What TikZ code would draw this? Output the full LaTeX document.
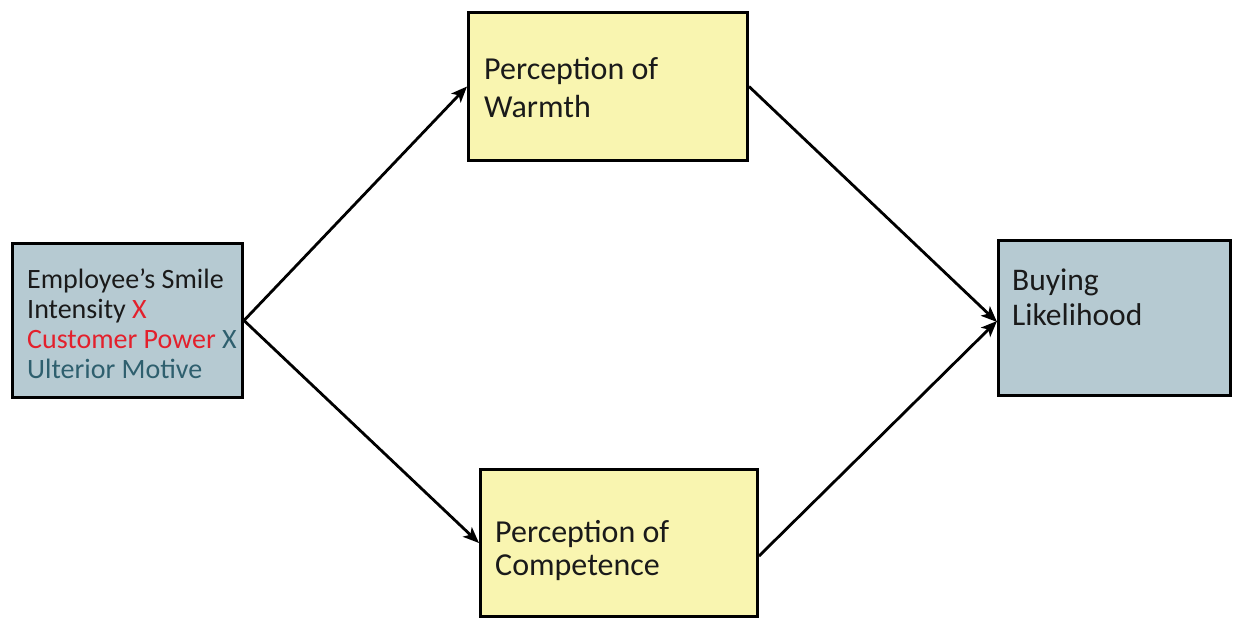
\documentclass[tikz,border=0pt]{standalone}
\usepackage{fontspec}
\setmainfont{Carlito}
\usetikzlibrary{arrows.meta}
\definecolor{boxblue}{HTML}{B6CAD2}
\definecolor{boxyellow}{HTML}{F9F5B0}
\definecolor{xred}{HTML}{E3202C}
\definecolor{xteal}{HTML}{2E5F6E}
\definecolor{txt}{HTML}{1A1A1A}
\tikzset{
  box/.style={draw=black, line width=3pt, inner sep=0pt, anchor=north west},
  bluebox/.style={box, fill=boxblue},
  yellowbox/.style={box, fill=boxyellow},
  lbl/.style={inner sep=0pt, anchor=base west, align=left, text=txt},
  arr/.style={line width=2.8pt, -{Stealth[length=16pt, width=13pt, inset=4pt]}}
}
\begin{document}
\begin{tikzpicture}[x=1pt, y=-1pt]
\fill[white] (0,0) rectangle (1233,622);
\useasboundingbox (0,0) rectangle (1233,622);
% boxes
\node[bluebox, minimum width=230pt, minimum height=154pt] (smile) at (11,242) {};
\node[yellowbox, minimum width=279pt, minimum height=148pt] (warmth) at (467,11) {};
\node[yellowbox, minimum width=277pt, minimum height=147pt] (comp) at (479,468) {};
\node[bluebox, minimum width=232pt, minimum height=155pt] (buy) at (997,239) {};
% texts
\node[lbl, font=\fontsize{28}{30}\selectfont] (smiletxt) at (27,378)
  {Employee’s Smile\\Intensity \textcolor{xred}{X}\\\textcolor{xred}{Customer Power} \textcolor{xteal}{X}\\\textcolor{xteal}{Ulterior Motive}};
\node[lbl, font=\fontsize{32}{38}\selectfont] (warmtxt) at (484,117) {Perception of\\Warmth};
\node[lbl, font=\fontsize{32}{33}\selectfont] (comptxt) at (495,575) {Perception of\\Competence};
\node[lbl, font=\fontsize{31.5}{35}\selectfont] (buytxt) at (1012,325) {Buying\\Likelihood};
% connectors
\draw[arr] (smile.east) -- (warmth.west);
\draw[arr] (smile.east) -- (comp.west);
\draw[arr] (warmth.east) -- ([yshift=-4pt]buy.west);
\draw[arr] ([yshift=-13pt]comp.east) -- ([yshift=-3pt]buy.west);
\end{tikzpicture}
\end{document}
